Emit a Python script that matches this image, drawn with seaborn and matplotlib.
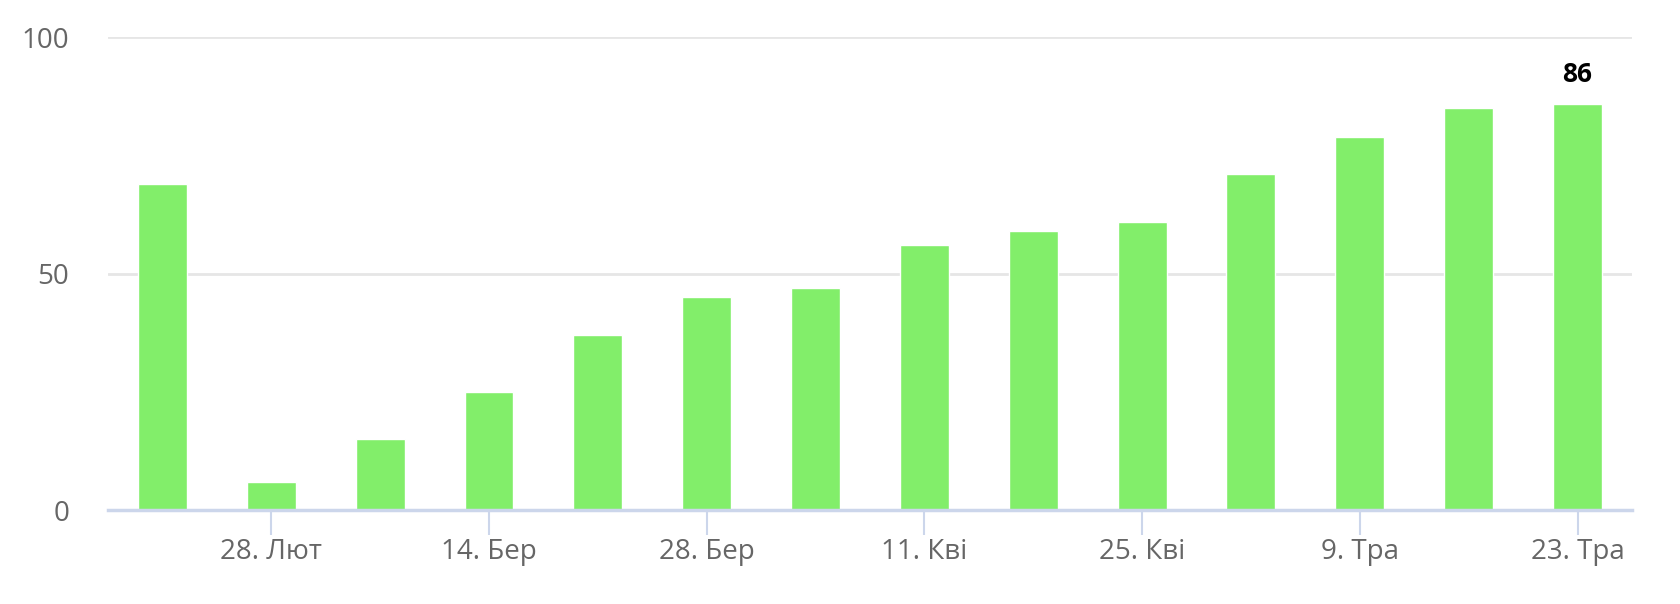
import matplotlib
matplotlib.use('Agg')
import matplotlib.pyplot as plt
import seaborn as sns
import pandas as pd

# weekly values
weeks = ['21. Лют', '28. Лют', '7. Бер', '14. Бер', '21. Бер', '28. Бер', '4. Кві',
         '11. Кві', '18. Кві', '25. Кві', '2. Тра', '9. Тра', '16. Тра', '23. Тра']
values = [69, 6, 15, 25, 37, 45, 47, 56, 59, 61, 71, 79, 85, 86]
yticks = [0, 50, 100]

df = pd.DataFrame({'week': weeks, 'value': values})

sns.set_style('white')
plt.rcParams['font.family'] = ['Open Sans', 'DejaVu Sans']

fig = plt.figure(figsize=(16.8, 6.04), dpi=100)
ax = fig.add_axes([0.0643, 0.1556, 0.9071, 0.7826])

sns.barplot(data=df, x='week', y='value', color='#82ee6a', saturation=1,
            width=0.45, ax=ax, zorder=3)

# only the last bar carries a label
lbls = [''] * (len(values) - 1) + [str(values[-1])]
ax.bar_label(ax.containers[0], labels=lbls, padding=11, fontsize=19,
             fontweight='bold', color='black')

ax.set_xlim(-0.5, len(weeks) - 0.5)
ax.set_ylim(0, 100)
ax.set_yticks(yticks)
ax.set_yticklabels([str(t) for t in yticks], fontsize=20, color='#666666')
ax.yaxis.grid(True, color='#e6e6e6', linewidth=2)
ax.set_axisbelow(True)

# every second week gets a tick
pos = list(range(1, len(weeks), 2))
ax.set_xticks(pos)
ax.set_xticklabels([weeks[i] for i in pos], fontsize=20, color='#666666')
ax.tick_params(axis='x', bottom=True, length=18, width=1.5, color='#ccd6eb', pad=2)
ax.tick_params(axis='y', left=False, length=0, pad=28)

ax.set_xlabel('')
ax.set_ylabel('')
for s in ['top', 'right', 'left']:
    ax.spines[s].set_visible(False)
ax.spines['bottom'].set_color('#ccd6eb')
ax.spines['bottom'].set_linewidth(2.5)
ax.spines['bottom'].set_zorder(4)

plt.savefig('out.png', dpi=100)
plt.close()
